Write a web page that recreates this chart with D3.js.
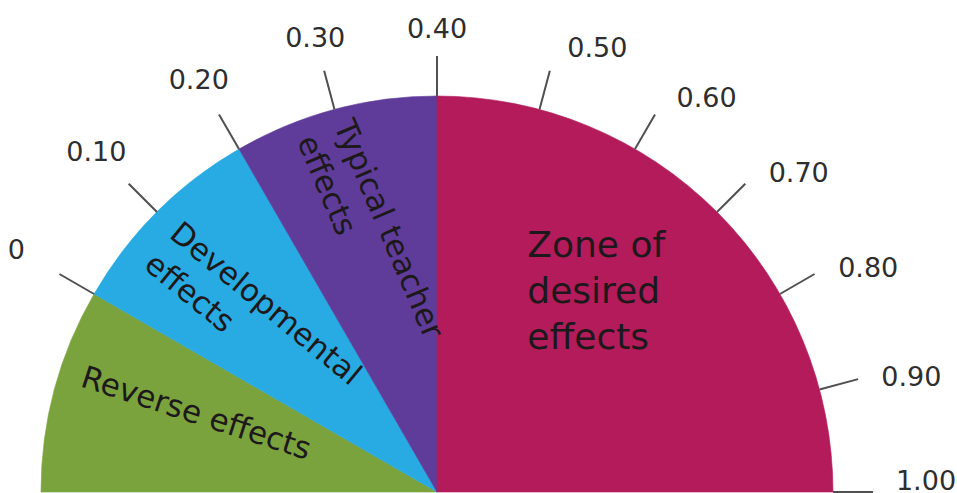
<!DOCTYPE html>
<html>
<head>
<meta charset="utf-8">
<script src="https://cdn.jsdelivr.net/npm/d3@7"></script>
<style>
  html, body { margin: 0; padding: 0; background: #ffffff; overflow: hidden; }
  svg { display: block; }
</style>
</head>
<body>
<svg id="chart" width="957" height="493"></svg>
<script>
// Effect-size zones of the barometer (start / end on the effect-size scale)
const zoneNames  = ["Reverse effects", "Developmental effects", "Typical teacher effects", "Zone of desired effects"];
const zoneStarts = [-0.20, 0.00, 0.20, 0.40];
const zoneEnds   = [0.00, 0.20, 0.40, 1.00];
const zoneLines  = [["Reverse effects"], ["Developmental", "effects"], ["Typical teacher", "effects"], ["Zone of", "desired", "effects"]];

// Scale ticks around the rim
const tickValues = [0, 0.10, 0.20, 0.30, 0.40, 0.50, 0.60, 0.70, 0.80, 0.90, 1.00];
const tickLabels = ["0", "0.10", "0.20", "0.30", "0.40", "0.50", "0.60", "0.70", "0.80", "0.90", "1.00"];

// Styling
const zoneColors = ["#7ba33d", "#28abe2", "#5f3c99", "#b41b5b"];
const FONT = "'DejaVu Sans', Verdana, sans-serif";

const svg = d3.select("#chart");
const cx = 437, cy = 492, R = 396;

// Effect size -> angle (d3 convention: radians clockwise from 12 o'clock)
const angle = d3.scaleLinear().domain([-0.20, 1.00]).range([-Math.PI / 2, Math.PI / 2]);
const polar = (a, r) => [cx + r * Math.sin(a), cy - r * Math.cos(a)];

const zones = zoneNames.map((name, i) => ({
  name, start: zoneStarts[i], end: zoneEnds[i], lines: zoneLines[i], color: zoneColors[i]
}));

const g = svg.append("g").attr("transform", `translate(${cx},${cy})`);

const arc = d3.arc()
  .innerRadius(0)
  .outerRadius(R)
  .startAngle(d => angle(d.start))
  .endAngle(d => angle(d.end));

g.selectAll("path.zone")
  .data(zones)
  .join("path")
  .attr("class", "zone")
  .attr("d", arc)
  .attr("fill", d => d.color)
  .attr("stroke", d => d.color)
  .attr("stroke-width", 0.6);

// Tick marks pointing outward from the rim
const tickLen = 40;
svg.append("g").selectAll("line")
  .data(tickValues)
  .join("line")
  .attr("x1", d => polar(angle(d), R)[0])
  .attr("y1", d => polar(angle(d), R)[1])
  .attr("x2", d => polar(angle(d), R + tickLen)[0])
  .attr("y2", d => polar(angle(d), R + tickLen)[1])
  .attr("stroke", "#505050")
  .attr("stroke-width", 2);

// Tick labels: further out where labels sit beside the rim, right-hand ones lean slightly clockwise
const deg = Math.PI / 180;
svg.append("g").selectAll("text")
  .data(tickValues)
  .join("text")
  .each(function (d, i) {
    let a = angle(d);
    if (a > 0.001) a += 5 * deg * Math.cos(a);
    const r = R + 68 + 25 * Math.abs(Math.sin(a));
    const [x, y] = polar(a, r);
    d3.select(this)
      .attr("x", x)
      .attr("y", Math.min(y, cy - 12))   // keep the last label inside the bottom edge
      .attr("dy", "0.36em")
      .attr("text-anchor", "middle")
      .text(tickLabels[i]);
  })
  .attr("font-family", FONT)
  .attr("font-size", 27)
  .attr("fill", "#2e2e2e");

// Zone captions: start point of the first baseline in polar form, rotation, line spacing
const captionLayout = [
  { at: -0.09,  r: 373, rot: 18,   lead: 40, size: 31 },
  { at: 0.09,   r: 371, rot: 39.4, lead: 40, size: 31 },
  { at: 0.295,  r: 381, rot: 67,   lead: 40, size: 31 },
  { at: 0.54,   r: 252, rot: 0,    lead: 46, size: 36 }
];

const captions = svg.append("g").selectAll("g")
  .data(zones)
  .join("g")
  .attr("transform", (d, i) => {
    const L = captionLayout[i];
    const [x, y] = polar(angle(L.at), L.r);
    return `translate(${x},${y}) rotate(${L.rot})`;
  });

captions.append("text")
  .attr("font-family", FONT)
  .attr("font-size", (d, i) => captionLayout[i].size)
  .attr("fill", "#1d191b")
  .each(function (d, i) {
    const t = d3.select(this);
    d.lines.forEach((line, j) => {
      t.append("tspan")
        .attr("x", 0)
        .attr("y", j * captionLayout[i].lead)
        .text(line);
    });
  });
</script>
</body>
</html>
